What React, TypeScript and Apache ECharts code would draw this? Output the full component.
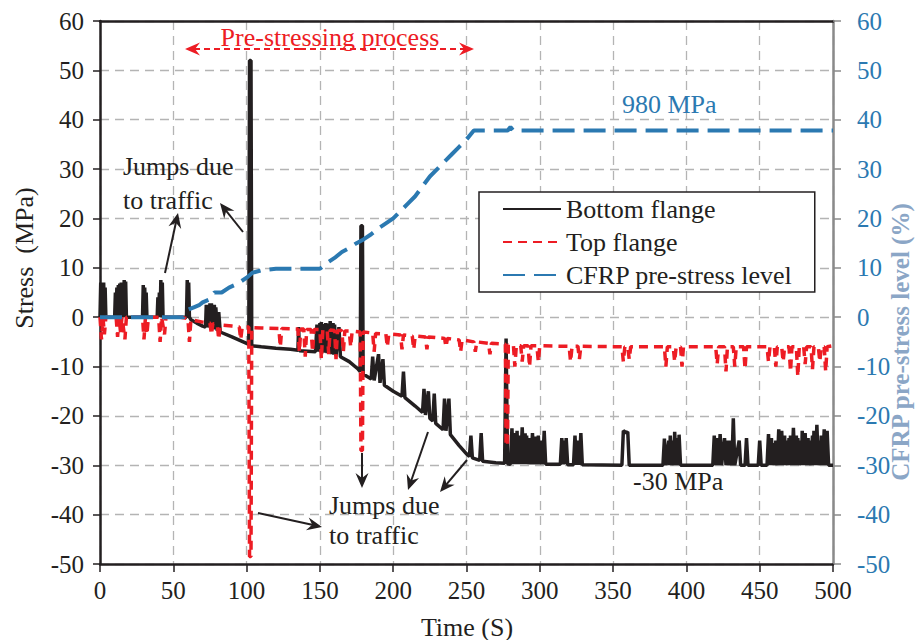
import React, { useEffect, useRef } from "react";
import * as echarts from "echarts";

const FONT = "Liberation Serif";

const xTicks = { min: 0, max: 500, interval: 50 };
const yTicks = { min: -50, max: 60, interval: 10 };

const seriesNames = ["Bottom flange", "Top flange", "CFRP pre-stress level"];

// Bottom flange stress (MPa), [time s, stress]
const bottomFlange: number[][] = [
  [0, 0], [0.5, 7], [1, 0], [1.5, 6.5], [2, 0], [2.5, 7], [3, 0], [3.5, 6], [4, 0],
  [10, 0], [10.5, 5], [11, 0], [11.5, 6], [12, 0], [12.5, 6.5], [13, 0], [13.5, 6.8], [14, 0],
  [14.5, 7], [15, 0], [15.5, 6.5], [16, 0], [16.5, 7.5], [17, 0], [17.5, 7.2], [18, 0],
  [29, 0], [29.5, 6.5], [30, 0], [30.5, 6], [31, 0], [31.5, 5], [32, 0],
  [39, 0], [39.5, 4], [40, 0], [40.5, 5], [41, 0], [41.5, 7.5], [42, 0], [42.5, 7], [43, 0],
  [59, 0], [59.5, 7.5], [60, 0], [60.5, 7], [61, 0],
  [62, -0.5], [66, -1.2], [70, -1.8],
  [72, -2], [72.5, 2.5], [73, -2], [73.5, 2], [74, -2.1], [75, 2.8], [75.5, -2.2], [76, 2.8], [77, -2.3],
  [78, 2.5], [78.5, -2.5], [79, 2], [80, -2.8], [81, 1], [82, -3],
  [90, -4], [100, -5.3], [101.5, -5.5], [102, 52], [103, 52], [103.5, -5.8],
  [110, -6], [120, -6.3], [130, -6.5],
  [135, -6.7], [135.5, -2], [136, -6.8],
  [147, -7], [148, -1.5], [149, -7], [150, -1.2], [150.5, -7.1], [151, -1], [152, -7.2], [153, -1.4],
  [153.5, -7.2], [154, -1.2], [155, -7.3], [156, -1.3], [156.5, -7.4],
  [157, -0.8], [158, -7.5], [159, -1.2], [159.5, -7.6], [160, -1.5], [161, -7.8], [163, -2], [164, -8],
  [170, -9], [176, -10.5], [177.5, -11], [178, 18.5], [179, 18.5], [179.5, -11.5],
  [185, -12.5], [186, -8], [187, -12.8], [190, -7.5], [191, -13.3], [193, -8.5], [194, -13.8],
  [200, -15], [206, -16], [207, -11], [208, -16.3], [215, -18],
  [220, -19.3], [221, -14.5], [222, -19.8], [224, -15], [225, -20.5],
  [227, -21], [228, -15.5], [229, -21.5], [234, -22.8], [235, -16.5], [236, -23], [238, -16.5], [239, -23.8],
  [245, -26], [250, -27.7], [252, -28.2], [253, -24], [254, -28.5], [259, -29], [260, -23.5], [261, -29.2],
  [270, -29.5], [276, -29.6], [277, -4.3], [278, -29.7],
  [280, -29.8], [281, -22.5], [282, -29.8], [283, -23.5], [284, -29.8], [284.5, -23], [285, -29.8],
  [286, -24], [287, -29.8], [288, -22.3], [289, -29.8], [290, -23.5], [290.5, -29.8],
  [291, -24], [292, -29.8], [293, -24.5], [294, -29.8], [295, -23.5], [296, -29.8], [297, -24.2], [298, -29.8],
  [299, -24], [300, -29.8], [301, -25], [302, -29.8], [303, -23], [304, -29.8],
  [314, -29.8], [315, -24.5], [316, -29.8], [317, -25], [317.5, -29.8], [318, -24.5], [319, -29.9],
  [323, -29.9], [324, -24], [325, -29.9], [326, -25], [327, -29.9], [328, -23.5], [329, -29.9],
  [356, -30], [357, -23], [358, -23.2], [359, -23.4], [360, -23.2], [361, -30],
  [384, -30], [385, -24.6], [386, -30], [388, -25], [388.5, -30], [389, -24], [390, -30], [391, -25], [391.5, -30],
  [392, -23.2], [393, -30], [394, -24.5], [394.5, -30], [395, -23.8], [396, -30],
  [418, -30], [419, -24], [420, -30], [421, -24.5], [422, -30], [423, -23.7], [424, -30], [426, -24.5], [427, -30],
  [428, -25], [429, -30], [430, -25], [431, -30], [432, -20.5], [433, -30], [436, -25], [437, -30],
  [440, -30], [441, -24.5], [442, -30], [449, -30], [450, -25], [451, -30],
  [455, -30], [456, -23.7], [457, -30], [458, -24.5], [459, -30], [460, -25.5], [460.5, -30], [461, -25], [462, -30],
  [463, -22.7], [464, -30], [465, -23], [466, -30], [467, -24], [467.5, -30], [468, -25], [469, -30],
  [470, -24.5], [470.5, -30], [471, -24], [472, -30],
  [473, -22.4], [474, -30], [475, -24], [475.5, -30], [476, -24.5], [477, -30], [478, -25], [478.5, -30],
  [479, -23], [480, -30], [481, -23.5], [482, -30], [483, -24.5], [483.5, -30],
  [484, -25], [485, -30], [486, -24], [486.5, -30], [487, -23], [488, -30], [489, -21.8], [490, -30],
  [491, -25], [491.5, -30], [492, -24], [493, -30],
  [494, -22.7], [495, -30], [496, -23], [497, -30], [500, -30],
];

// Top flange stress (MPa), [time s, stress]
const topFlange: number[][] = [
  [0, 0], [1, -4.5], [2, 0], [3, -3.5], [4, 0],
  [11, 0], [12, -4], [13, 0], [14, -3], [15, 0], [17, -4.5], [18, 0],
  [29, 0], [30, -4.5], [31, 0], [32, -3.5], [33, 0],
  [40, 0], [41, -5], [42, 0], [44, -3.5], [45, 0],
  [55, 0], [60, -0.3], [61, -5], [62, -0.5], [70, -1],
  [75, -1.2], [76, -3.5], [77, -1.3], [80, -1.5], [81, -4.5], [82, -1.6], [90, -1.8],
  [95, -2], [96, -4.5], [97, -2], [101.5, -2], [102, -48.5], [103, -48.5], [103.5, -2.1], [110, -2.2],
  [122, -2.3], [123, -6], [124, -2.3], [135, -2.4], [136, -7], [137, -2.4], [139, -2.4], [140, -8], [141, -2.5],
  [144, -2.5], [145, -7], [146, -2.5], [150, -2.5], [151, -8.5], [152, -2.6], [155, -2.6], [156, -7.5], [157, -2.6],
  [160, -2.7], [161, -8.5], [162, -2.7], [165, -2.7], [166, -7], [167, -2.8], [170, -2.8], [171, -6], [172, -2.8],
  [177.5, -3], [178, -27], [179, -27], [179.5, -3],
  [186, -3.2], [187, -7], [188, -3.3], [195, -3.4], [196, -6], [197, -3.4], [205, -3.6], [206, -6.5], [207, -3.6],
  [213, -3.8], [214, -6.5], [215, -3.8], [222, -4], [223, -6.5], [224, -4], [235, -4.3], [236, -6], [237, -4.3],
  [245, -4.6], [246, -7], [247, -4.6], [255, -5], [256, -7], [257, -5],
  [265, -5.3], [266, -7.5], [267, -5.3], [276.5, -5.5], [277, -26], [278, -26], [278.5, -5.6],
  [282, -5.7], [283, -10], [284, -5.7], [287, -5.8], [288, -9], [289, -5.8], [292, -5.8], [293, -10], [294, -5.8],
  [298, -5.8], [299, -9], [300, -5.8],
  [320, -5.9], [321, -9], [322, -5.9], [326, -5.9], [327, -8.5], [328, -5.9],
  [356, -6], [357, -9], [358, -6], [360, -6], [361, -8.5], [362, -6],
  [385, -6], [386, -10], [387, -6], [391, -6], [392, -9], [393, -6], [396, -6], [397, -10], [398, -6],
  [420, -6], [421, -9.5], [422, -6], [426, -6], [427, -11], [428, -6], [432, -6], [433, -10], [434, -6],
  [439, -6], [440, -10.5], [441, -6],
  [455, -6], [456, -9], [457, -6], [460, -6], [461, -10], [462, -6], [465, -6], [466, -9], [467, -6],
  [470, -6], [471, -11], [472, -6], [475, -6], [476, -12], [477, -6], [480, -6], [481, -9.5], [482, -6],
  [485, -6], [486, -10.5], [487, -6], [490, -6], [491, -9], [492, -6], [494, -6], [495, -11], [496, -6],
  [500, -5.8],
];

// CFRP pre-stress level (%), [time s, level]
const cfrpLevel: number[][] = [
  [0, 0], [57, 0], [60, 1.5], [64, 2], [68, 2.5], [70, 3], [74, 3.5], [78, 5], [83, 5], [88, 6],
  [94, 6.8], [100, 8], [104, 9], [110, 9.5], [120, 9.8], [150, 9.8], [155, 11], [160, 12],
  [165, 13.2], [170, 14], [175, 15], [180, 15.8], [185, 16.8], [190, 18], [195, 19], [200, 20],
  [205, 21.5], [210, 23], [215, 24.5], [220, 26.5], [225, 28.5], [230, 30], [235, 31.5],
  [240, 33], [245, 34.5], [250, 36], [255, 37.8], [278, 37.8], [280, 38.5], [282, 37.8], [500, 37.8],
];

function arrow(x1: number, y1: number, x2: number, y2: number, color: string, dashed = false): any[] {
  const dx = x2 - x1;
  const dy = y2 - y1;
  const len = Math.sqrt(dx * dx + dy * dy);
  const ux = dx / len;
  const uy = dy / len;
  const px = -uy;
  const py = ux;
  const L = 15;
  const W = 6.5;
  const points = [
    [x2, y2],
    [x2 - L * ux + W * px, y2 - L * uy + W * py],
    [x2 - (L - 5) * ux, y2 - (L - 5) * uy],
    [x2 - L * ux - W * px, y2 - L * uy - W * py],
  ];
  return [
    {
      type: "line",
      shape: { x1, y1, x2: x2 - (L - 6) * ux, y2: y2 - (L - 6) * uy },
      style: { stroke: color, lineWidth: 2, lineDash: dashed ? [6, 4] : null },
      z: 100,
    },
    { type: "polygon", shape: { points }, style: { fill: color }, z: 100 },
  ];
}

function txt(text: string, x: number, y: number, opts: any = {}): any {
  return {
    type: "text",
    x,
    y,
    rotation: opts.rotation || 0,
    z: 100,
    style: {
      text,
      fill: opts.color || "#231f20",
      fontFamily: FONT,
      fontSize: opts.size || 26,
      fontWeight: opts.bold ? "bold" : "normal",
      textAlign: opts.align || "left",
      textVerticalAlign: "middle",
    },
  };
}

export default function App() {
  const ref = useRef<HTMLDivElement>(null);
  useEffect(() => {
    if (!ref.current) return;
    const chart = echarts.init(ref.current, null, { renderer: "svg" });
    const black = "#231f20";
    const grid = { left: 100, right: 87, top: 21, bottom: 76 };
    const splitLine = { show: true, lineStyle: { color: "#b4b4b4", width: 1.3, type: [9, 6] } };
    const graphic: any[] = [
      txt("Pre-stressing process", 330, 37, { color: "#ed1c24", align: "center" }),
      ...arrow(300, 49, 185, 49, "#ed1c24", true),
      ...arrow(300, 49, 474, 49, "#ed1c24", true),
      txt("Jumps due", 123, 166),
      txt("to traffic", 123, 200),
      ...arrow(165, 273, 178, 213, black),
      ...arrow(243, 232, 220, 203, black),
      txt("Jumps due", 329, 505),
      txt("to traffic", 329, 535),
      ...arrow(362, 453, 362, 488, black),
      ...arrow(428, 432, 408, 490, black),
      ...arrow(467, 460, 440, 492, black),
      ...arrow(258, 513, 322, 527, black),
      txt("-30 MPa", 633, 481),
      txt("980 MPa", 622, 104, { color: "#2b79b1" }),
      txt("Stress  (MPa)", 24, 258, { rotation: Math.PI / 2, align: "center" }),
      txt("CFRP pre-stress level (%)", 900, 342, {
        rotation: Math.PI / 2,
        align: "center",
        bold: true,
        color: "#8ba6c6",
        size: 25,
      }),
      txt("Time (S)", 467, 627, { align: "center" }),
    ];
    chart.setOption({
      animation: false,
      backgroundColor: "#ffffff",
      grid,
      textStyle: { fontFamily: FONT },
      legend: {
        orient: "vertical",
        left: 479,
        top: 192,
        data: seriesNames,
        itemWidth: 58,
        itemHeight: 14,
        itemGap: 5,
        padding: [3, 22, 3, 23],
        borderColor: black,
        borderWidth: 1.5,
        borderRadius: 0,
        backgroundColor: "#ffffff",
        itemStyle: { opacity: 0 },
        textStyle: { fontFamily: FONT, fontSize: 26, color: black, lineHeight: 28 },
      },
      xAxis: [
        {
          type: "value",
          position: "bottom",
          ...xTicks,
          axisLine: { show: true, onZero: false, lineStyle: { color: black, width: 2.5 } },
          axisTick: { show: true, length: 8, lineStyle: { color: black, width: 1.5 } },
          axisLabel: { fontFamily: FONT, fontSize: 25, color: black, margin: 14 },
          splitLine,
        },
        {
          type: "value",
          position: "top",
          ...xTicks,
          axisLine: { show: true, onZero: false, lineStyle: { color: black, width: 2.5 } },
          axisTick: { show: false },
          axisLabel: { show: false },
          splitLine: { show: false },
        },
      ],
      yAxis: [
        {
          type: "value",
          position: "left",
          ...yTicks,
          axisLine: { show: true, onZero: false, lineStyle: { color: black, width: 2.5 } },
          axisTick: { show: true, length: 7, lineStyle: { color: black, width: 1.5 } },
          axisLabel: { fontFamily: FONT, fontSize: 25, color: black, margin: 16 },
          splitLine,
        },
        {
          type: "value",
          position: "right",
          ...yTicks,
          axisLine: { show: true, onZero: false, lineStyle: { color: "#8a8a8a", width: 2.5 } },
          axisTick: { show: true, length: 8, lineStyle: { color: "#8a8a8a", width: 1.5 } },
          axisLabel: { fontFamily: FONT, fontSize: 25, color: "#2b79b1", margin: 24 },
          splitLine: { show: false },
        },
      ],
      series: [
        {
          name: seriesNames[0],
          type: "line",
          data: bottomFlange,
          symbol: "none",
          lineStyle: { color: "#231f20", width: 3.5 },
          itemStyle: { color: "#231f20" },
          z: 2,
        },
        {
          name: seriesNames[1],
          type: "line",
          data: topFlange,
          symbol: "none",
          lineStyle: { color: "#ed1c24", width: 3.5, type: [9, 6] },
          itemStyle: { color: "#ed1c24" },
          z: 3,
        },
        {
          name: seriesNames[2],
          type: "line",
          yAxisIndex: 1,
          data: cfrpLevel,
          symbol: "none",
          lineStyle: { color: "#2b79b1", width: 4, type: [22, 9] },
          itemStyle: { color: "#2b79b1" },
          z: 4,
        },
      ],
      graphic,
    });
    return () => chart.dispose();
  }, []);
  return (
    <div
      ref={ref}
      style={{ position: "fixed", left: 0, top: 0, width: 920, height: 640, background: "#fff" }}
    />
  );
}
